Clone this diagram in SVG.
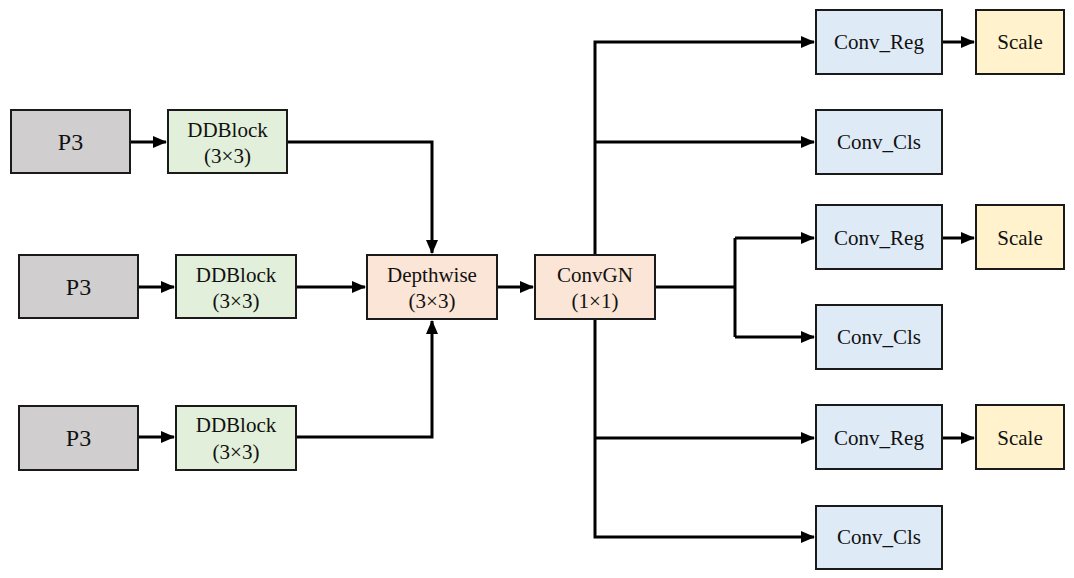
<svg xmlns="http://www.w3.org/2000/svg" width="1074" height="578" viewBox="0 0 1074 578">
<defs>
<marker id="arr" markerUnits="userSpaceOnUse" markerWidth="14" markerHeight="12" refX="13" refY="6" orient="auto">
<path d="M0,0 L14,6 L0,12 Z" fill="#000"/>
</marker>
<style>
.box{stroke:#1a1a1a;stroke-width:2}
.p3{fill:#d0cece}
.dd{fill:#e2efda}
.dw{fill:#fbe5d6}
.cv{fill:#deebf7}
.sc{fill:#fff2cc}
.lbl text{font-family:'Liberation Serif','Times New Roman','DejaVu Serif',serif}
.t{font-size:21px}
.big{font-size:24px}
.con{fill:none;stroke:#000;stroke-width:3}
</style>
</defs>
<rect width="1074" height="578" fill="#fff"/>
<g id="connectors">
<path class="con" d="M130,142 H166" marker-end="url(#arr)"/>
<path class="con" d="M138,287 H174" marker-end="url(#arr)"/>
<path class="con" d="M138,437 H174" marker-end="url(#arr)"/>
<path class="con" d="M287,142 H432 V253" marker-end="url(#arr)"/>
<path class="con" d="M296,287 H365" marker-end="url(#arr)"/>
<path class="con" d="M296,437 H432 V321" marker-end="url(#arr)"/>
<path class="con" d="M497,287 H533" marker-end="url(#arr)"/>
<path class="con" d="M595,255 V42 H814" marker-end="url(#arr)"/>
<path class="con" d="M595,142 H814" marker-end="url(#arr)"/>
<path class="con" d="M595,319 V537 H814" marker-end="url(#arr)"/>
<path class="con" d="M595,438 H814" marker-end="url(#arr)"/>
<path class="con" d="M655,287 H735"/>
<path class="con" d="M735,238 V337"/>
<path class="con" d="M735,238 H814" marker-end="url(#arr)"/>
<path class="con" d="M735,337 H814" marker-end="url(#arr)"/>
<path class="con" d="M942,42 H974" marker-end="url(#arr)"/>
<path class="con" d="M942,238 H974" marker-end="url(#arr)"/>
<path class="con" d="M942,438 H974" marker-end="url(#arr)"/>
</g>
<g class="lbl" fill="#111" text-anchor="middle">
<g id="p3a"><rect class="box p3" x="11" y="110" width="119" height="63"/><text class="big" x="70.5" y="150">P3</text></g>
<g id="p3b"><rect class="box p3" x="19" y="255" width="119" height="63"/><text class="big" x="78.5" y="295">P3</text></g>
<g id="p3c"><rect class="box p3" x="19" y="406" width="119" height="64"/><text class="big" x="78.5" y="446">P3</text></g>
<g id="dda"><rect class="box dd" x="168" y="110" width="119" height="63"/><text class="t" x="227.5" y="137">DDBlock</text><text class="t" x="227.5" y="163">(3×3)</text></g>
<g id="ddb"><rect class="box dd" x="176" y="255" width="120" height="63"/><text class="t" x="236" y="282">DDBlock</text><text class="t" x="236" y="308">(3×3)</text></g>
<g id="ddc"><rect class="box dd" x="176" y="406" width="120" height="64"/><text class="t" x="236" y="432">DDBlock</text><text class="t" x="236" y="459">(3×3)</text></g>
<g id="depthwise"><rect class="box dw" x="367" y="255" width="130" height="64"/><text class="t" x="432" y="282">Depthwise</text><text class="t" x="432" y="308">(3×3)</text></g>
<g id="convgn"><rect class="box dw" x="535" y="255" width="120" height="64"/><text class="t" x="595" y="282">ConvGN</text><text class="t" x="595" y="308">(1×1)</text></g>
<g id="reg1"><rect class="box cv" x="816" y="10" width="126" height="64"/><text class="t" x="879" y="49">Conv_Reg</text></g>
<g id="cls1"><rect class="box cv" x="816" y="110" width="126" height="64"/><text class="t" x="879" y="149">Conv_Cls</text></g>
<g id="reg2"><rect class="box cv" x="816" y="205" width="126" height="64"/><text class="t" x="879" y="245">Conv_Reg</text></g>
<g id="cls2"><rect class="box cv" x="816" y="305" width="126" height="64"/><text class="t" x="879" y="344">Conv_Cls</text></g>
<g id="reg3"><rect class="box cv" x="816" y="405" width="126" height="64"/><text class="t" x="879" y="445">Conv_Reg</text></g>
<g id="cls3"><rect class="box cv" x="816" y="506" width="126" height="63"/><text class="t" x="879" y="544">Conv_Cls</text></g>
<g id="scale1"><rect class="box sc" x="976" y="10" width="88" height="64"/><text class="t" x="1020" y="49">Scale</text></g>
<g id="scale2"><rect class="box sc" x="976" y="205" width="88" height="64"/><text class="t" x="1020" y="245">Scale</text></g>
<g id="scale3"><rect class="box sc" x="976" y="405" width="88" height="64"/><text class="t" x="1020" y="445">Scale</text></g>
</g>
</svg>
